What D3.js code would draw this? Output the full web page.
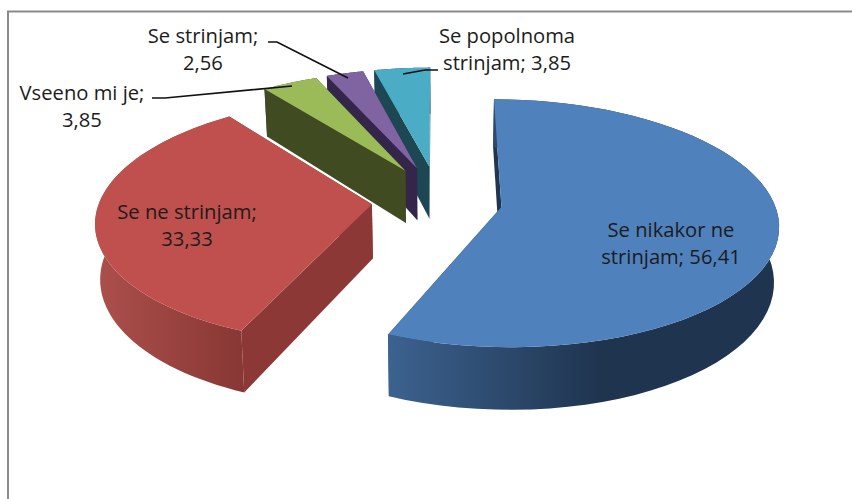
<!DOCTYPE html>
<html>
<head>
<meta charset="utf-8">
<script src="https://cdn.jsdelivr.net/npm/d3@7"></script>
<style>
  html, body { margin: 0; padding: 0; background: #fff; overflow: hidden; }
  text { font-family: "Open Sans", Lato, sans-serif; font-size: 20.2px; fill: #1c1c1c; }
</style>
</head>
<body>
<div id="chart"></div>
<script>
// DATA
const categories = ["Se nikakor ne strinjam", "Se ne strinjam", "Vseeno mi je", "Se strinjam", "Se popolnoma strinjam"];
const values = [56.41, 33.33, 3.85, 2.56, 3.85];

// COLOURS
const topColors = ["#4f81bd", "#c0504d", "#9bbb59", "#8064a2", "#4bacc6"];
const wallColors = ["#1f3552", "#8c3836", "#404b22", "#33264a", "#1d4753"];
const sideLeft = ["#3c628f", "#ab4f4b", "#4a5728", "#3d2e58", "#235663"];
const sideRight = ["#1f344f", "#883734", "#404b22", "#33264a", "#1d4753"];

// LABELS (split the way the chart wraps them)
const labelLines = [
  ["Se nikakor ne", "strinjam; 56,41"],
  ["Se ne strinjam;", "33,33"],
  ["Vseeno mi je;", "3,85"],
  ["Se strinjam;", "2,56"],
  ["Se popolnoma", "strinjam; 3,85"]
];
const labelX = [671, 187, 82, 203, 507];
const labelY = [237, 219, 100, 43, 43];
const leaders = [
  null,
  null,
  [[152, 98], [165, 98], [292, 86]],
  [[268, 42], [277, 42], [348, 78]],
  [[403, 74], [425, 70], [438, 70]]
];

// CANVAS
const WIDTH = 852;
const HEIGHT = 499;
const svg = d3.select("#chart").append("svg").attr("width", WIDTH).attr("height", HEIGHT);

// frame, only top and left are in the crop
svg.append("path")
  .attr("d", `M8,${HEIGHT}V11.5H${WIDTH}`)
  .attr("fill", "none")
  .attr("stroke", "#8a8a8a")
  .attr("stroke-width", 2);

// PROJECTION
const CX = 437, CY = 200, RX = 272, RY = 120, K = 0.13, DEPTH = 54;
const EXPLODE_X = 0.24, EXPLODE_Z = 0.29, SHRINK = 0.985;

function project(X, Z, low) {
  const f = 1 / (1 - K * Z);
  return [
    CX + X * RX * f * (low ? SHRINK : 1),
    CY + Z * RY * f + (low ? DEPTH * f : 0)
  ];
}

const pie = d3.pie().sort(null);
const arcs = pie(values);
const line = d3.line();

const defs = svg.append("defs");

// draw the back slices first, the two big ones last
const order = [4, 3, 2, 1, 0];

order.forEach((i) => {
  const d = arcs[i];
  const mid = (d.startAngle + d.endAngle) / 2;
  const ox = EXPLODE_X * Math.sin(mid);
  const oz = -EXPLODE_Z * Math.cos(mid);

  const steps = d3.range(0, 61).map((s) => d.startAngle + (d.endAngle - d.startAngle) * s / 60);
  const rim = (low) => steps.map((a) => project(ox + Math.sin(a), oz - Math.cos(a), low));
  const apex = (low) => project(ox, oz, low);

  const topRim = rim(false);
  const lowRim = rim(true);
  const g = svg.append("g").attr("class", "slice").attr("data-name", categories[i]);

  // end wall, then start wall
  g.append("path")
    .attr("d", line([topRim[60], apex(false), apex(true), lowRim[60]]) + "Z")
    .attr("fill", wallColors[i]);
  g.append("path")
    .attr("d", line([topRim[0], apex(false), apex(true), lowRim[0]]) + "Z")
    .attr("fill", wallColors[i]);

  // curved side, shaded left to right like the original
  const xs = d3.extent(lowRim.filter((p, j) => Math.cos(steps[j]) < 0), (p) => p[0]);
  const grad = defs.append("linearGradient")
    .attr("id", `side-${i}`)
    .attr("gradientUnits", "userSpaceOnUse")
    .attr("x1", i === 0 ? xs[0] : xs[0] || 0)
    .attr("x2", i === 0 ? xs[0] + (xs[1] - xs[0]) * 0.55 : xs[1] || 1)
    .attr("y1", 0)
    .attr("y2", 0);
  grad.append("stop").attr("offset", "0%").attr("stop-color", sideLeft[i]);
  grad.append("stop").attr("offset", "100%").attr("stop-color", sideRight[i]);

  g.append("path")
    .attr("d", line(topRim.concat(lowRim.slice().reverse())) + "Z")
    .attr("fill", `url(#side-${i})`);

  // top face
  g.append("path")
    .attr("d", line([apex(false)].concat(topRim)) + "Z")
    .attr("fill", topColors[i]);
});

// LEADERS
svg.selectAll(".leader")
  .data(leaders.filter((l) => l))
  .enter()
  .append("path")
  .attr("class", "leader")
  .attr("d", (l) => line(l))
  .attr("fill", "none")
  .attr("stroke", "#111")
  .attr("stroke-width", 1.7);

// LABELS
labelLines.forEach((lines, i) => {
  svg.append("text")
    .attr("text-anchor", "middle")
    .selectAll("tspan")
    .data(lines)
    .enter()
    .append("tspan")
    .attr("x", labelX[i])
    .attr("y", (t, j) => labelY[i] + j * 27)
    .text((t) => t);
});
</script>
</body>
</html>
